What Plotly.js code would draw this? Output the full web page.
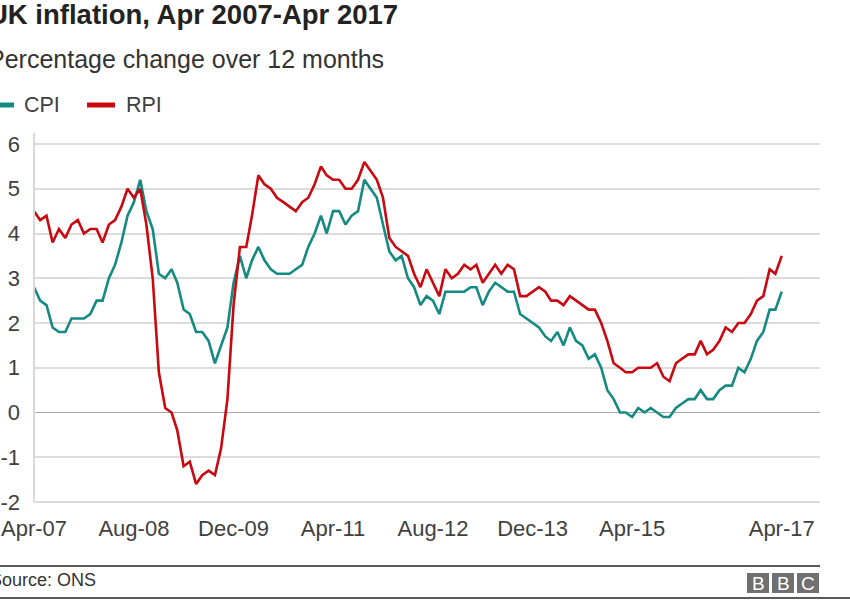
<!DOCTYPE html>
<html><head><meta charset="utf-8">
<script src="https://cdn.plot.ly/plotly-3.0.1.min.js"></script>
<style>html,body{margin:0;padding:0;background:#fff;} #chart{width:850px;height:600px;}</style>
</head><body><div id="chart"></div>
<script>
// ---- data ----
const startYear = 2007, startMonth = 4, monthCount = 121; // Apr 2007 .. Apr 2017
const cpi = [
  2.8,2.5,2.4,1.9,1.8,1.8,2.1,2.1,2.1,
  2.2,2.5,2.5,3.0,3.3,3.8,4.4,4.7,5.2,4.5,4.1,3.1,
  3.0,3.2,2.9,2.3,2.2,1.8,1.8,1.6,1.1,1.5,1.9,2.9,
  3.5,3.0,3.4,3.7,3.4,3.2,3.1,3.1,3.1,3.2,3.3,3.7,
  4.0,4.4,4.0,4.5,4.5,4.2,4.4,4.5,5.2,5.0,4.8,4.2,
  3.6,3.4,3.5,3.0,2.8,2.4,2.6,2.5,2.2,2.7,2.7,2.7,
  2.7,2.8,2.8,2.4,2.7,2.9,2.8,2.7,2.7,2.2,2.1,2.0,
  1.9,1.7,1.6,1.8,1.5,1.9,1.6,1.5,1.2,1.3,1.0,0.5,
  0.3,0.0,0.0,-0.1,0.1,0.0,0.1,0.0,-0.1,-0.1,0.1,0.2,
  0.3,0.3,0.5,0.3,0.3,0.5,0.6,0.6,1.0,0.9,1.2,1.6,
  1.8,2.3,2.3,2.7
];
const rpi = [
  4.5,4.3,4.4,3.8,4.1,3.9,4.2,4.3,4.0,
  4.1,4.1,3.8,4.2,4.3,4.6,5.0,4.8,5.0,4.2,3.0,0.9,
  0.1,0.0,-0.4,-1.2,-1.1,-1.6,-1.4,-1.3,-1.4,-0.8,0.3,2.4,
  3.7,3.7,4.4,5.3,5.1,5.0,4.8,4.7,4.6,4.5,4.7,4.8,
  5.1,5.5,5.3,5.2,5.2,5.0,5.0,5.2,5.6,5.4,5.2,4.8,
  3.9,3.7,3.6,3.5,3.1,2.8,3.2,2.9,2.6,3.2,3.0,3.1,
  3.3,3.2,3.3,2.9,3.1,3.3,3.1,3.3,3.2,2.6,2.6,2.7,
  2.8,2.7,2.5,2.5,2.4,2.6,2.5,2.4,2.3,2.3,2.0,1.6,
  1.1,1.0,0.9,0.9,1.0,1.0,1.0,1.1,0.8,0.7,1.1,1.2,
  1.3,1.3,1.6,1.3,1.4,1.6,1.9,1.8,2.0,2.0,2.2,2.5,
  2.6,3.2,3.1,3.5
];
const seriesNames = ['CPI', 'RPI'];
const tickDates = ['2007-04-01','2008-08-01','2009-12-01','2011-04-01','2012-08-01','2013-12-01','2015-04-01','2017-04-01'];
const tickLabels = ['Apr-07','Aug-08','Dec-09','Apr-11','Aug-12','Dec-13','Apr-15','Apr-17'];
const yTicks = [-2,-1,0,1,2,3,4,5,6];
const yTickLabels = ['-2','-1','0','1','2','3','4','5','6'];

// month categories
const months = [];
for (let i = 0; i < monthCount; i++) {
  const m = startMonth - 1 + i;
  const y = startYear + Math.floor(m / 12);
  const mm = (m % 12) + 1;
  months.push(y + '-' + String(mm).padStart(2, '0') + '-01');
}

// ---- layout geometry ----
const W = 850, H = 600, L = 34, R = 30, T = 133, B = 95;
const pw = W - L - R, ph = H - T - B;
const px = x => (x - L) / pw;
const py = y => (H - B - y) / ph;
const unitPx = 44.75; // pixels per percentage point
const yMin = -2 - (H - B - 502) / unitPx;
const yMax = 6 + (144 - T) / unitPx;

const FONT = 'Liberation Sans, Arial, Helvetica, sans-serif';
const teal = '#148a82', red = '#c9080f';
const colors = [teal, red];

const traces = [
  {x: months, y: cpi, name: seriesNames[0], type: 'scatter', mode: 'lines',
   line: {color: teal, width: 2.6}, showlegend: false},
  {x: months, y: rpi, name: seriesNames[1], type: 'scatter', mode: 'lines',
   line: {color: red, width: 2.6}, showlegend: false}
];

const logoX = [747, 772, 797], logoLetters = ['B', 'B', 'C'];
const shapes = [
  {type: 'line', xref: 'paper', yref: 'paper', x0: px(0), x1: px(820), y0: py(566), y1: py(566),
   line: {color: '#222', width: 1.5}},
  {type: 'line', xref: 'paper', yref: 'paper', x0: px(0), x1: px(850), y0: py(598), y1: py(598),
   line: {color: '#222', width: 1.5}},
  // y axis line from the top of the plot down to the -2 gridline
  {type: 'line', xref: 'paper', yref: 'y', x0: 0, x1: 0, y0: yTicks[0], y1: yMax,
   line: {color: '#d8d8d8', width: 2}}
];
const annotations = [
  {xref: 'paper', yref: 'paper', x: px(-14), y: py(14), xanchor: 'left', yanchor: 'middle', showarrow: false,
   text: '<b>UK inflation, Apr 2007-Apr 2017</b>', font: {family: FONT, size: 27.5, color: '#222'}},
  {xref: 'paper', yref: 'paper', x: px(-14), y: py(59), xanchor: 'left', yanchor: 'middle', showarrow: false,
   text: 'Percentage change over 12 months', font: {family: FONT, size: 25, color: '#333'}},
  {xref: 'paper', yref: 'paper', x: px(-12.5), y: py(580), xanchor: 'left', yanchor: 'middle', showarrow: false,
   text: 'Source: ONS', font: {family: FONT, size: 18, color: '#333'}}
];
// legend: swatch + label for each series
const legendSwatchX = [-14, 87], legendTextX = [22, 124];
seriesNames.forEach((nm, i) => {
  shapes.push({type: 'line', xref: 'paper', yref: 'paper', x0: px(legendSwatchX[i]), x1: px(legendSwatchX[i] + 28),
    y0: py(105), y1: py(105), line: {color: colors[i], width: 5}});
  annotations.push({xref: 'paper', yref: 'paper', x: px(legendTextX[i]), y: py(105), xanchor: 'left', yanchor: 'middle',
    showarrow: false, text: nm, font: {family: FONT, size: 21.5, color: '#404040'}});
});
logoX.forEach((lx, i) => {
  shapes.push({type: 'rect', xref: 'paper', yref: 'paper', x0: px(lx), x1: px(lx + 22), y0: py(573), y1: py(593),
    fillcolor: '#707070', line: {width: 0}});
  annotations.push({xref: 'paper', yref: 'paper', x: px(lx + 11), y: py(583), xanchor: 'center', yanchor: 'middle',
    showarrow: false, text: logoLetters[i], font: {family: FONT, size: 19, color: '#fff'}});
});

const layout = {
  width: W, height: H,
  margin: {l: L, r: R, t: T, b: B, pad: 0},
  paper_bgcolor: '#fff', plot_bgcolor: '#fff',
  font: {family: FONT, color: '#404040'},
  showlegend: false,
  xaxis: {type: 'date', range: ['2007-04-01', '2017-10-05'], tickvals: tickDates, ticktext: tickLabels,
    showgrid: false, zeroline: false, showline: false, ticks: '', tickfont: {family: FONT, size: 22, color: '#404040'},
    ticklabelstandoff: 8, fixedrange: true},
  yaxis: {range: [yMin, yMax], tickvals: yTicks, ticktext: yTickLabels,
    showgrid: true, gridcolor: '#dcdcdc', gridwidth: 2,
    zeroline: true, zerolinecolor: '#aaaaaa', zerolinewidth: 1.5,
    showline: false,
    ticks: '', tickfont: {family: FONT, size: 22, color: '#404040'}, ticklabelstandoff: 13, fixedrange: true},
  shapes: shapes,
  annotations: annotations,
  hovermode: false
};

Plotly.newPlot('chart', traces, layout, {displayModeBar: false, staticPlot: true});
</script>
</body></html>
